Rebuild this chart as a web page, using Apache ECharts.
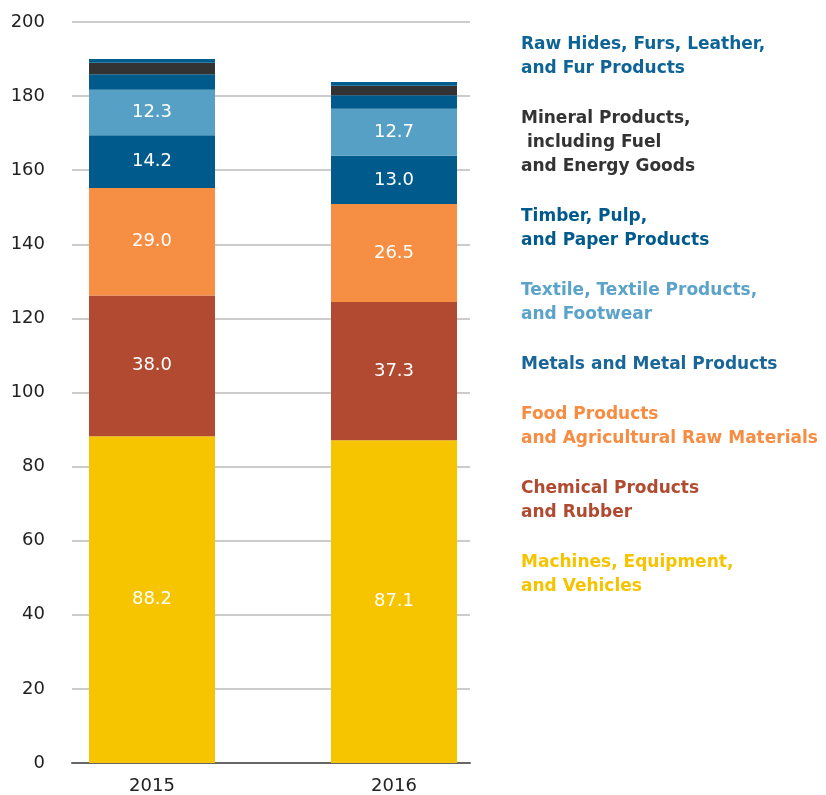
<!DOCTYPE html>
<html>
<head>
<meta charset="utf-8">
<script src="https://cdn.jsdelivr.net/npm/echarts@6/dist/echarts.min.js"></script>
<style>
  html, body { margin: 0; padding: 0; background: #fff; }
  #chart { width: 826px; height: 795px; }
</style>
</head>
<body>
<div id="chart"></div>
<script>
const years = ['2015', '2016'];

// bottom to top
const seriesNames = [
  'Machines, Equipment,\nand Vehicles',
  'Chemical Products\nand Rubber',
  'Food Products\nand Agricultural Raw Materials',
  'Metals and Metal Products',
  'Textile, Textile Products,\nand Footwear',
  'Timber, Pulp,\nand Paper Products',
  'Mineral Products,\n including Fuel\nand Energy Goods',
  'Raw Hides, Furs, Leather,\nand Fur Products'
];
const machines = [88.2, 87.1];
const chemical = [38.0, 37.3];
const food = [29.0, 26.5];
const metals = [14.2, 13.0];
const textile = [12.3, 12.7];
const timber = [4.2, 3.6];
const mineral = [3.1, 2.6];
const rawHides = [1.0, 1.0];
const seriesValues = [machines, chemical, food, metals, textile, timber, mineral, rawHides];
const showLabel = [true, true, true, true, true, false, false, false];

const barColors = ['#f6c500', '#b14a31', '#f68e43', '#005b8c', '#569fc5', '#005b8c', '#333333', '#005d8f'];
const textColors = ['#f5c400', '#b04a30', '#f68d42', '#1a6699', '#5ba3c9', '#005a8c', '#333333', '#0f6496'];

const yTicks = { min: 0, max: 200, interval: 20 };

const FONT = 'DejaVu Sans';

const chart = echarts.init(document.getElementById('chart'));

const series = seriesNames.map((name, i) => ({
  name: name,
  type: 'bar',
  stack: 'total',
  xAxisIndex: 1,
  yAxisIndex: 1,
  barWidth: 126,
  itemStyle: { color: barColors[i] },
  label: {
    show: showLabel[i],
    position: 'inside',
    color: '#fff',
    fontSize: 18,
    fontFamily: FONT,
    formatter: p => p.value.toFixed(1)
  },
  emphasis: { disabled: true },
  data: seriesValues[i]
}));

chart.setOption({
  animation: false,
  textStyle: { fontFamily: FONT },
  grid: [
    { left: 72, right: 356, top: 22, bottom: 32 },
    { left: 31, right: 311, top: 22, bottom: 32 }
  ],
  xAxis: [
    {
      gridIndex: 0, type: 'value', min: 0, max: 1,
      axisLine: { show: true, lineStyle: { color: '#666', width: 2 } },
      axisTick: { show: false }, axisLabel: { show: false }, splitLine: { show: false }
    },
    {
      gridIndex: 1, type: 'category', data: years,
      axisLine: { show: false }, axisTick: { show: false }, splitLine: { show: false },
      axisLabel: { color: '#222', fontSize: 18, fontFamily: FONT, margin: 14 }
    }
  ],
  yAxis: [
    {
      gridIndex: 0, type: 'value', min: yTicks.min, max: yTicks.max, interval: yTicks.interval,
      axisLine: { show: false }, axisTick: { show: false },
      axisLabel: { color: '#222', fontSize: 18, fontFamily: FONT, margin: 27 },
      splitLine: { lineStyle: { color: '#bbbbbb', width: 1.5 } }
    },
    {
      gridIndex: 1, type: 'value', min: yTicks.min, max: yTicks.max, show: false,
      splitLine: { show: false }
    }
  ],
  legend: {
    orient: 'vertical',
    left: 511,
    top: 28,
    icon: 'none',
    itemWidth: 0,
    itemGap: 26,
    selectedMode: false,
    data: seriesNames.map((n, i) => ({
      name: n,
      textStyle: { color: textColors[i] }
    })).reverse(),
    textStyle: { fontSize: 17, fontWeight: 'bold', lineHeight: 24, fontFamily: FONT }
  },
  series: series
});
</script>
</body>
</html>
